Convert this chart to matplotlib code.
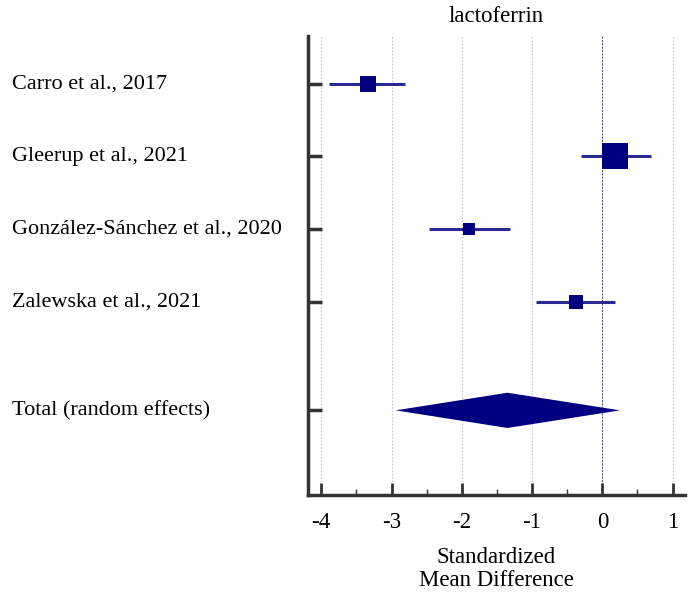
import matplotlib
matplotlib.use("Agg")
import matplotlib.pyplot as plt
import matplotlib.transforms as mtransforms
import numpy as np
from matplotlib.ticker import MultipleLocator

studies = ["Carro et al., 2017", "Gleerup et al., 2021",
           "González-Sánchez et al., 2020", "Zalewska et al., 2021"]
smd = [-3.34, 0.18, -1.90, -0.38]
ci_low = [-3.89, -0.30, -2.47, -0.94]
ci_high = [-2.81, 0.69, -1.32, 0.18]
weights = [21.3, 51.7, 9.8, 17.2]

total_label = "Total (random effects)"
total_smd = -1.35
total_low = -2.94
total_high = 0.25

title = "lactoferrin"
xlabel = "Standardized\nMean Difference"
xticks = [-4, -3, -2, -1, 0, 1]

plt.rcParams['font.family'] = ['Liberation Serif', 'DejaVu Serif']

fig = plt.figure(figsize=(6.95, 6.01), dpi=100)
ax = fig.add_axes([0.443, 0.176, 0.543, 0.764])

navy = '#000080'
ypos = [0, 1, 2, 3]
ytot = 4.5

for x in xticks:
    if x == 0:
        ax.axvline(x, color='#555577', lw=0.8, ls=(0, (2, 1)), zorder=0)
    else:
        ax.axvline(x, color='#c8c8c8', lw=0.8, ls=(0, (1.5, 1.5)), zorder=0)

for y, m, lo, hi, w in zip(ypos, smd, ci_low, ci_high, weights):
    ax.plot([lo, hi], [y, y], color='#2a2a90', lw=2.2, zorder=2, solid_capstyle='butt')
    ax.plot([m], [y], marker='s', color=navy, markersize=2.6 * np.sqrt(w),
            markeredgewidth=0, zorder=3)

h = 0.243
ax.fill([total_low, total_smd, total_high, total_smd],
        [ytot, ytot - h, ytot, ytot + h], color=navy, lw=0, zorder=3)

ax.set_xlim(-4.19, 1.18)
ax.set_ylim(5.67, -0.66)
ax.set_xticks(xticks)
ax.set_xticklabels([str(t) for t in xticks])
ax.xaxis.set_minor_locator(MultipleLocator(0.5))
ax.set_yticks(ypos + [ytot])
ax.set_yticklabels([])

for s in ['top', 'right']:
    ax.spines[s].set_visible(False)
for s in ['left', 'bottom']:
    ax.spines[s].set_linewidth(2.5)
    ax.spines[s].set_color('#333333')

ax.tick_params(axis='y', direction='in', length=10, width=2.5, color='#333333')
ax.tick_params(axis='x', which='major', direction='in', length=9, width=2,
               color='#333333', labelsize=16.5, pad=12)
ax.tick_params(axis='x', which='minor', direction='in', length=4, width=1,
               color='#333333')

trans = mtransforms.blended_transform_factory(fig.transFigure, ax.transData)
for y, name in zip(ypos + [ytot], studies + [total_label]):
    ax.text(12 / 695, y, name, transform=trans,
            ha='left', va='center', fontsize=16)

ax.set_title(title, fontsize=16.5, pad=10)
ax.set_xlabel(xlabel, fontsize=16.5, labelpad=10, linespacing=1.15)

fig.savefig("out.png", dpi=100)
